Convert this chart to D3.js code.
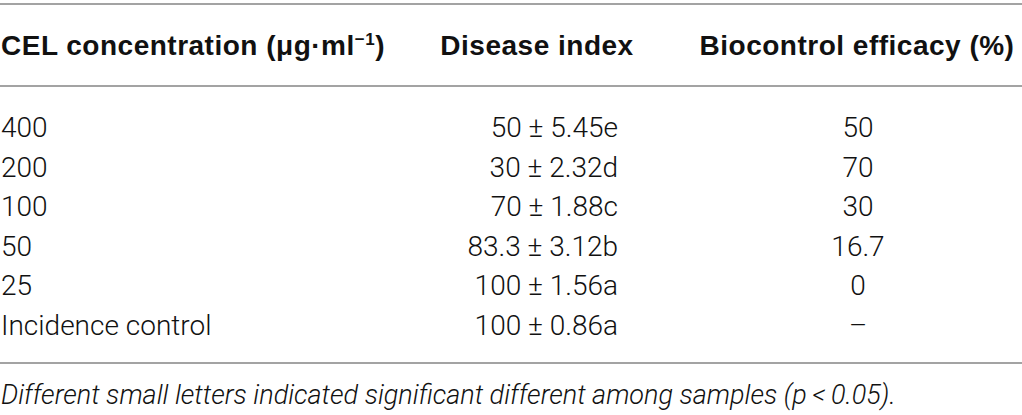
<!DOCTYPE html>
<html><head><meta charset="utf-8">
<script src="https://cdn.jsdelivr.net/npm/d3@7"></script>
<style>
html,body{margin:0;padding:0;background:#fff;}
svg{display:block;}
</style></head>
<body>
<svg id="c" width="1022" height="415"></svg>
<script>
const headers = ["CEL concentration (μg·ml", "Disease index", "Biocontrol efficacy (%)"];
const concentrations = ["400", "200", "100", "50", "25", "Incidence control"];
const diseaseIndex = [50, 30, 70, 83.3, 100, 100];
const diseaseSE = ["5.45", "2.32", "1.88", "3.12", "1.56", "0.86"];
const sigLetters = ["e", "d", "c", "b", "a", "a"];
const efficacy = ["50", "70", "30", "16.7", "0", "–"];
const footnote = "Different small letters indicated significant different among samples (";

const svg = d3.select("#c");
const W = 1022;
const rowY = d3.scalePoint().domain(d3.range(concentrations.length)).range([137, 335]);
const lineColor = "#a3a3a3";

// rules
[4, 86, 363].forEach(y => svg.append("line").attr("x1", 0).attr("x2", W).attr("y1", y).attr("y2", y)
  .attr("stroke", lineColor).attr("stroke-width", 2));

const hFont = "'Liberation Sans', Arial, sans-serif";
const dFont = "Roboto, 'Liberation Sans', sans-serif";
const hSize = 28, hLS = 0.5;

// header
const hy = 55;
const h0 = svg.append("text").attr("x", 1).attr("y", hy).attr("font-family", hFont).attr("font-weight", "bold")
  .attr("font-size", hSize).attr("fill", "#111").attr("letter-spacing", hLS);
h0.append("tspan").text(headers[0]);
h0.append("tspan").attr("font-size", 17).attr("dy", -10).text("−1");
h0.append("tspan").attr("dy", 10).text(")");
svg.append("text").attr("x", 537).attr("y", hy).attr("text-anchor", "middle").attr("font-family", hFont)
  .attr("font-weight", "bold").attr("font-size", hSize).attr("fill", "#111").attr("letter-spacing", hLS).text(headers[1]);
svg.append("text").attr("x", 857).attr("y", hy).attr("text-anchor", "middle").attr("font-family", hFont)
  .attr("font-weight", "bold").attr("font-size", hSize).attr("fill", "#111").attr("letter-spacing", hLS).text(headers[2]);

// rows
const rows = svg.selectAll("g.row").data(concentrations).join("g").attr("class", "row")
  .attr("transform", (d, i) => `translate(0,${rowY(i)})`)
  .attr("font-family", dFont).attr("font-weight", 300).attr("font-size", 28).attr("fill", "#111");
rows.append("text").attr("x", 1).text(d => d);
rows.append("text").attr("x", 618).attr("text-anchor", "end")
  .text((d, i) => `${diseaseIndex[i]} ± ${diseaseSE[i]}${sigLetters[i]}`);
rows.append("text").attr("x", 858).attr("text-anchor", "middle").text((d, i) => efficacy[i]);

// footnote
const f = svg.append("text").attr("x", 1).attr("y", 404).attr("font-family", dFont).attr("font-weight", 300)
  .attr("font-style", "italic").attr("font-size", 27).attr("fill", "#111");
f.append("tspan").text(footnote);
f.append("tspan").text("p\u2009<\u20090.05).");
</script>
</body></html>
